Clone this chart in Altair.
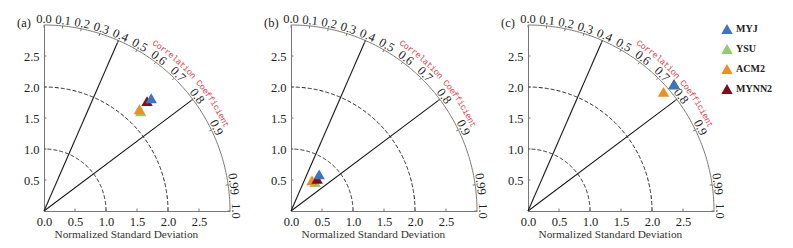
import altair as alt
import pandas as pd

# ---------------- data ----------------
models = ["MYJ", "YSU", "ACM2", "MYNN2"]
colors = ["#3b74c4", "#8fcb6f", "#f28e1e", "#7a1116"]
draw_rank = [4, 1, 2, 3]

std_a = [2.51, 2.24, 2.25, 2.43]
corr_a = [0.689, 0.696, 0.684, 0.684]
std_b = [0.745, 0.61, 0.60, 0.67]
corr_b = [0.61, 0.64, 0.565, 0.63]
std_c = [3.12, 3.11, 2.91, 3.12]
corr_c = [0.755, 0.757, 0.751, 0.755]

corr_ticks = [0.0, 0.1, 0.2, 0.3, 0.4, 0.5, 0.6, 0.7, 0.8, 0.9, 0.99, 1.0]
corr_tick_labels = ["0.0", "0.1", "0.2", "0.3", "0.4", "0.5", "0.6", "0.7", "0.8", "0.9", "0.99", "1.0"]
radial_corr = [0.4, 0.8]
dashed_std = [1.0, 2.0]
outer_std = [3.0]
x_ticks = [0.0, 0.5, 1.0, 1.5, 2.0, 2.5]
y_ticks = [0.5, 1.0, 1.5, 2.0, 2.5]
arc_title = "Correlation Coefficient"

# ---------------- style ----------------
SERIF = "Liberation Serif"
SIZE = 186
XS = alt.Scale(domain=[0, 3], nice=False, zero=True)
YS = alt.Scale(domain=[0, 3], nice=False, zero=True)
AXX = alt.Axis(
    values=x_ticks, format=".1f", title="Normalized Standard Deviation",
    grid=False, ticks=False, labelPadding=4, labelFont=SERIF,
    labelFontSize=12.5, labelColor="#222", domainColor="#777",
    labelFlush=False, labelOverlap=False,
    titleFont=SERIF, titleFontSize=11.3, titleFontWeight="normal",
    titleColor="#333", titlePadding=1, titleAnchor="start", titleX=10,
    titleAlign="left")
AXY = alt.Axis(
    values=y_ticks, format=".1f", title="", grid=False, ticks=False,
    labelPadding=5, labelFont=SERIF, labelFontSize=12.5,
    labelColor="#222", domainColor="#777", labelFlush=False,
    labelOverlap=False)


def X(f):
    return alt.X(f, type="quantitative", scale=XS, axis=AXX)


def Y(f):
    return alt.Y(f, type="quantitative", scale=YS, axis=AXY)


def arc_layer(radii, dash, color):
    mk = dict(color=color, strokeWidth=1, clip=False)
    if dash:
        mk["strokeDash"] = [4, 2]
    return (
        alt.Chart(pd.DataFrame({"r": radii}))
        .transform_calculate(a="sequence(0, 90.5, 0.5)")
        .transform_flatten(["a"])
        .transform_calculate(
            px="datum.r*cos(datum.a*PI/180)", py="datum.r*sin(datum.a*PI/180)"
        )
        .mark_line(**mk)
        .encode(x=X("px:Q"), y=Y("py:Q"), detail="r:N", order="a:Q")
    )


def panel(tag, std, corr):
    xt = (
        alt.Chart(pd.DataFrame({"t": x_ticks[1:]}))
        .transform_calculate(a="0", b="0.04")
        .mark_rule(color="#777", strokeWidth=1)
        .encode(x=X("t:Q"), y=Y("a:Q"), y2="b:Q")
    )
    yt = (
        alt.Chart(pd.DataFrame({"t": y_ticks}))
        .transform_calculate(a="0", b="0.04")
        .mark_rule(color="#777", strokeWidth=1)
        .encode(y=Y("t:Q"), x=X("a:Q"), x2="b:Q")
    )
    dashed = arc_layer(dashed_std, True, "#222")
    outer = arc_layer(outer_std, False, "#777")
    radial = (
        alt.Chart(pd.DataFrame({"c": radial_corr}))
        .transform_calculate(o="0", ex="3*datum.c", ey="3*sqrt(1-datum.c*datum.c)")
        .mark_rule(color="#1a1a1a", strokeWidth=1.1)
        .encode(x=X("o:Q"), y=Y("o:Q"), x2="ex:Q", y2="ey:Q")
    )
    tk = pd.DataFrame({"c": corr_ticks, "lab": corr_tick_labels})
    arc_ticks = (
        alt.Chart(tk)
        .transform_calculate(
            x1="2.96*datum.c", y1="2.96*sqrt(1-datum.c*datum.c)",
            x2="3*datum.c", y2="3*sqrt(1-datum.c*datum.c)")
        .mark_rule(color="#777", strokeWidth=1)
        .encode(x=X("x1:Q"), y=Y("y1:Q"), x2="x2:Q", y2="y2:Q")
    )
    arc_labels = (
        alt.Chart(tk)
        .transform_calculate(
            lx="3.025*datum.c", ly="3.025*sqrt(1-datum.c*datum.c)",
            ang="90-acos(datum.c)*180/PI")
        .mark_text(font=SERIF, fontSize=12.5, color="#222", align="center",
                   baseline="alphabetic")
        .encode(x=X("lx:Q"), y=Y("ly:Q"),
                text="lab:N", angle=alt.Angle("ang:Q", scale=None))
    )
    cdf = pd.DataFrame({"ch": list(arc_title), "i": list(range(len(arc_title)))})
    title_chars = (
        alt.Chart(cdf)
        .transform_calculate(th="56.4-datum.i*1.41")
        .transform_calculate(
            tx="3.25*cos(datum.th*PI/180)", ty="3.25*sin(datum.th*PI/180)",
            ang="90-datum.th")
        .mark_text(font="Liberation Mono", fontSize=8.7, color="#dc4550",
                   align="center", baseline="middle")
        .encode(x=X("tx:Q"), y=Y("ty:Q"),
                text="ch:N", angle=alt.Angle("ang:Q", scale=None))
    )
    pts_df = pd.DataFrame({"model": models, "std": std, "corr": corr, "rank": draw_rank})
    pts = (
        alt.Chart(pts_df)
        .transform_calculate(
            px="datum.std*datum.corr", py="datum.std*sqrt(1-datum.corr*datum.corr)")
        .mark_point(shape="triangle-up", filled=True, size=130, opacity=1, clip=False)
        .encode(
            x=X("px:Q"), y=Y("py:Q"),
            color=alt.Color("model:N", scale=alt.Scale(domain=models, range=colors),
                            legend=alt.Legend(
                                title=None, orient="none", legendX=677, legendY=-2,
                                symbolType="triangle-up", symbolSize=130,
                                symbolStrokeWidth=0, labelFont=SERIF,
                                labelFontSize=10, labelFontWeight="bold",
                                labelColor="#222", rowPadding=9, labelOffset=3)),
            order=alt.Order("rank:Q"),
        )
    )
    tag_txt = (
        alt.Chart(pd.DataFrame({"t": [tag]}))
        .mark_text(font=SERIF, fontSize=12.5, color="#222", align="left",
                   baseline="middle")
        .encode(x=alt.value(-27), y=alt.value(-2), text="t:N")
    )
    return alt.layer(dashed, outer, xt, yt, radial, arc_ticks, arc_labels,
                     title_chars, pts, tag_txt).properties(width=SIZE, height=SIZE)


def spacer(w):
    return (
        alt.Chart(pd.DataFrame({"s": [""]}))
        .mark_text(opacity=0)
        .encode(text="s:N", x=alt.value(0), y=alt.value(0))
        .properties(width=w, height=SIZE)
    )


pa = panel("(a)", std_a, corr_a)
pb = panel("(b)", std_b, corr_b)
pc = panel("(c)", std_c, corr_c)

chart = (
    alt.hconcat(pa, spacer(61), pb, spacer(51), pc, spacing=0, bounds="flush")
    .properties(padding={"left": 8, "top": 4, "right": 5, "bottom": 0})
    .configure_view(stroke="transparent")
)

chart.save("out.html", embed_options={"renderer": "svg", "actions": False})
